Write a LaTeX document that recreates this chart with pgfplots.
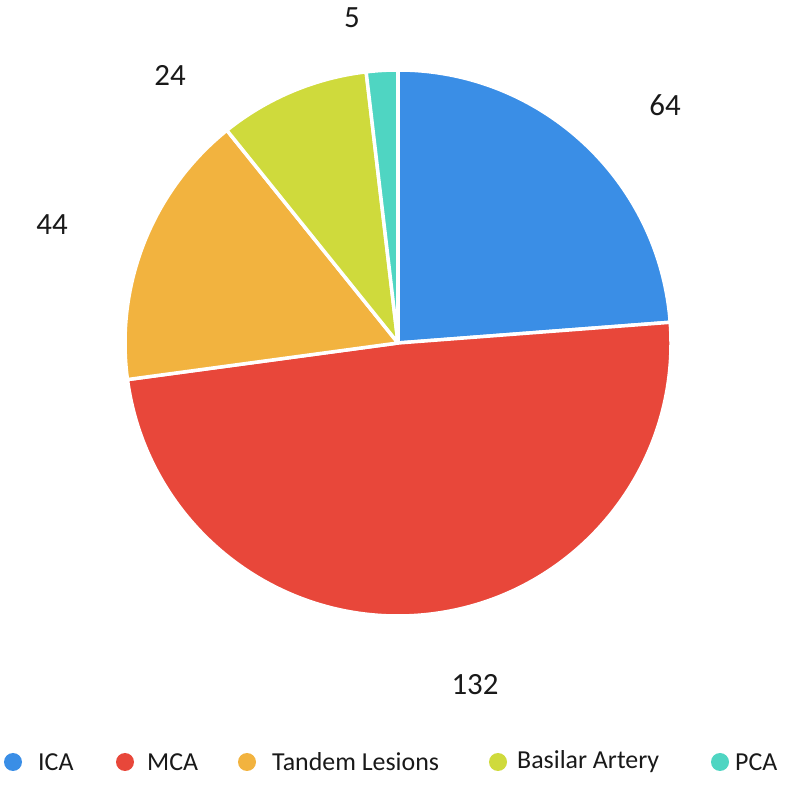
\documentclass[border=0pt]{standalone}
\usepackage{pgfplots}
\usepackage{pgfplotstable}
\usepackage{fontspec}
\setmainfont{Carlito}
\pgfplotsset{compat=1.18}

\definecolor{c0}{HTML}{3A8EE6}
\definecolor{c1}{HTML}{E8473A}
\definecolor{c2}{HTML}{F2B33F}
\definecolor{c3}{HTML}{CFDA3C}
\definecolor{c4}{HTML}{4FD5C2}

% slice values; lx/ly = label position (px from top-left)
\pgfplotstableread{
name value lx ly
ICA 64 665 105
MCA 132 475 685
Tandem 44 52 225
Basilar 24 170 75
PCA 5 352 18
}\piedata

\begin{document}
\begin{tikzpicture}
\begin{axis}[
  x=1bp, y=1bp,
  xmin=0, xmax=790, ymin=0, ymax=794,
  hide axis, clip=false,
]
\path (axis cs:0,0) rectangle (axis cs:790,794);

\pgfplotstablegetrowsof{\piedata}
\pgfmathtruncatemacro\N{\pgfplotsretval-1}
\def\total{0}
\pgfplotsforeachungrouped \i in {0,...,\N}{%
  \pgfplotstablegetelem{\i}{value}\of\piedata
  \pgfmathsetmacro\total{\total+\pgfplotsretval}%
}
\def\angstart{90}
\pgfplotsforeachungrouped \i in {0,...,\N}{%
  \pgfplotstablegetelem{\i}{value}\of\piedata \let\v\pgfplotsretval
  \pgfplotstablegetelem{\i}{lx}\of\piedata \let\lx\pgfplotsretval
  \pgfplotstablegetelem{\i}{ly}\of\piedata \let\ly\pgfplotsretval
  \pgfmathsetmacro\angend{\angstart-\v/\total*360}%
  \pgfmathsetmacro\lyy{794-\ly}%
  \edef\temp{%
    \noexpand\fill[c\i, draw=white, line width=3.5bp, line join=round]
      (axis cs:398,451) -- ++(\angstart:273bp)
      arc[start angle=\angstart, end angle=\angend, radius=273bp] -- cycle;
    \noexpand\node[font=\noexpand\fontsize{31}{31}\noexpand\selectfont, text=black!90]
      at (axis cs:\lx,\lyy) {\v};
  }\temp
  \global\let\angstart\angend
}

% legend
\def\legy{32}
\foreach \cx/\tx/\col/\lab in {13/38/c0/ICA, 125/147/c1/MCA, 247/272/c2/Tandem Lesions,
    498/517/c3/Basilar Artery, 720/735/c4/PCA}{
  \edef\temp{%
    \noexpand\fill[\col] (axis cs:\cx,\legy) circle[radius=9bp];
    \noexpand\node[anchor=west, inner sep=0pt,
      font=\noexpand\fontsize{26}{26}\noexpand\selectfont, text=black!90]
      at (axis cs:\tx,\legy) {\lab};
  }\temp
}
\end{axis}
\end{tikzpicture}
\end{document}
